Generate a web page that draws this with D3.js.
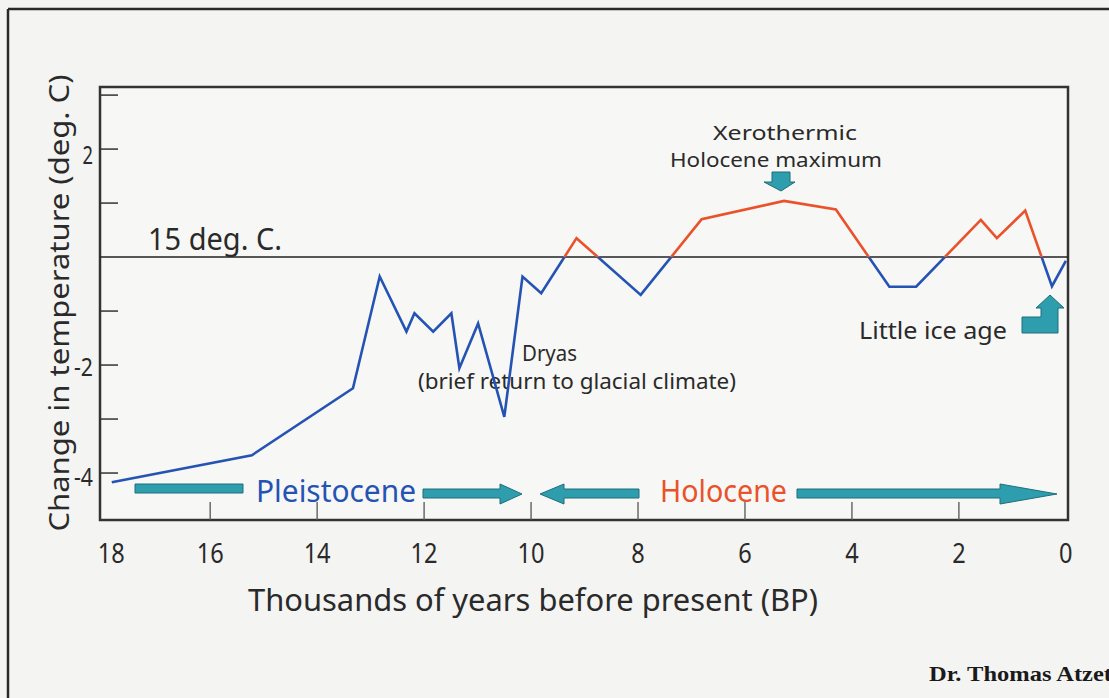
<!DOCTYPE html>
<html>
<head>
<meta charset="utf-8">
<script src="https://cdn.jsdelivr.net/npm/d3@7/dist/d3.min.js"></script>
<style>
  html, body { margin: 0; padding: 0; background: #f4f4f2; }
  svg { display: block; }
</style>
</head>
<body>
<svg id="chart" width="1109" height="698"></svg>
<script>
// ---- Data ----
const yearsBP = [17.84, 15.22, 13.33, 12.83, 12.33, 12.18, 11.83, 11.49, 11.34, 10.99, 10.50, 10.16, 9.81, 9.15, 7.95, 6.81, 5.27, 4.30, 3.30, 2.80, 1.59, 1.29, 0.76, 0.26, 0.00];
const tempChange = [-4.17, -3.67, -2.43, -0.36, -1.38, -1.04, -1.38, -1.04, -2.06, -1.23, -2.96, -0.36, -0.67, 0.35, -0.70, 0.70, 1.04, 0.88, -0.55, -0.55, 0.69, 0.35, 0.86, -0.54, -0.07];
const xTickValues = [18, 16, 14, 12, 10, 8, 6, 4, 2, 0];
const xTickLabels = ["18", "16", "14", "12", "10", "8", "6", "4", "2", "0"];
const yTickValues = [3, 2, 1, -1, -2, -3, -4];
const yLabelValues = [2, -2, -4];
const yLabelTexts = ["2", "-2", "-4"];

const BLUE = "#2553b3", RED = "#e9522b", TEAL = "#2e9dad", TEAL_EDGE = "#1f6f7b", INK = "#2a2a2a";
const FONT = "'Noto Sans', 'Open Sans', sans-serif";

const svg = d3.select("#chart");
const L = 100, R = 1068, T = 87, B = 520;

const x = d3.scaleLinear().domain([18.06, -0.04]).range([L, R]);
const y = d3.scaleLinear().domain([-4.87, 3.15]).range([B, T]);

// outer frame (top and left edges of the scanned page box)
svg.append("line").attr("x1", 8).attr("x2", 1109).attr("y1", 9).attr("y2", 9)
  .attr("stroke", INK).attr("stroke-width", 2.5);
svg.append("line").attr("x1", 8).attr("x2", 8).attr("y1", 9).attr("y2", 698)
  .attr("stroke", INK).attr("stroke-width", 2.5);

// plot area
svg.append("rect").attr("x", L).attr("y", T).attr("width", R - L).attr("height", B - T)
  .attr("fill", "#f7f7f5").attr("stroke", "#333").attr("stroke-width", 2.5);

// inner ticks
svg.append("g").selectAll("line").data(yTickValues).join("line")
  .attr("x1", L).attr("x2", L + 18).attr("y1", d => y(d)).attr("y2", d => y(d))
  .attr("stroke", "#333").attr("stroke-width", 1.5);
svg.append("g").selectAll("line").data(xTickValues.filter(v => v !== 18 && v !== 0)).join("line")
  .attr("x1", d => x(d)).attr("x2", d => x(d)).attr("y1", B).attr("y2", B - 18)
  .attr("stroke", "#555").attr("stroke-width", 1.3);

// zero (15 deg. C.) line
svg.append("line").attr("x1", L).attr("x2", R).attr("y1", y(0)).attr("y2", y(0))
  .attr("stroke", "#222").attr("stroke-width", 1.6);

// tick labels
svg.append("g").selectAll("text").data(xTickValues).join("text")
  .attr("x", (d) => x(d) + (d === 18 ? 8 : 0)).attr("y", 563)
  .attr("text-anchor", "middle")
  .attr("font-family", FONT).attr("font-size", 28).attr("fill", INK)
  .attr("textLength", (d, i) => xTickLabels[i].length * 13.5).attr("lengthAdjust", "spacingAndGlyphs")
  .text((d, i) => xTickLabels[i]);
svg.append("g").selectAll("text").data(yLabelValues).join("text")
  .attr("x", 93).attr("y", d => y(d) + 9 + (d === 2 ? 6 : d === -4 ? 4 : 2))
  .attr("text-anchor", "end")
  .attr("font-family", FONT).attr("font-size", 25).attr("fill", INK)
  .attr("textLength", (d, i) => yLabelTexts[i].length * 8.5 + 2).attr("lengthAdjust", "spacingAndGlyphs")
  .text((d, i) => yLabelTexts[i]);

// axis titles
svg.append("text").attr("x", 248).attr("y", 611)
  .attr("font-family", FONT).attr("font-size", 31).attr("fill", INK)
  .attr("textLength", 570).attr("lengthAdjust", "spacingAndGlyphs")
  .text("Thousands of years before present (BP)");
svg.append("text").attr("transform", "translate(69,303) rotate(-90)")
  .attr("text-anchor", "middle")
  .attr("font-family", FONT).attr("font-size", 27).attr("fill", INK)
  .attr("textLength", 457).attr("lengthAdjust", "spacingAndGlyphs")
  .text("Change in temperature (deg. C)");

// annotations text
function label(txt, px, py, size, len, color, anchor) {
  svg.append("text").attr("x", px).attr("y", py)
    .attr("text-anchor", anchor || "start")
    .attr("font-family", FONT).attr("font-size", size).attr("fill", color || INK)
    .attr("textLength", len).attr("lengthAdjust", "spacingAndGlyphs")
    .text(txt);
}
label("15 deg. C.", 148, 250, 31, 134);
label("Xerothermic", 785, 140, 20, 144, INK, "middle");
label("Holocene maximum", 670, 167, 20, 212);
label("Dryas", 522, 361, 21, 55);
label("(brief return to glacial climate)", 418, 389, 21, 318);
label("Little ice age", 859, 339, 23, 148);
label("Pleistocene", 256, 502, 31, 160, BLUE);
label("Holocene", 660, 502, 31, 127, RED);

// credit
svg.append("text").attr("x", 929).attr("y", 681)
  .attr("font-family", "'Liberation Serif', 'Times New Roman', serif").attr("font-weight", "bold")
  .attr("font-size", 21).attr("fill", "#1a1a1a")
  .attr("textLength", 183).attr("lengthAdjust", "spacingAndGlyphs")
  .text("Dr. Thomas Atzet");

// teal block arrows
function teal(points) {
  svg.append("polygon").attr("points", points.map(p => p.join(",")).join(" "))
    .attr("fill", TEAL).attr("stroke", TEAL_EDGE).attr("stroke-width", 1);
}
function blockArrow(x0, x1, tip) {
  teal([[x0, 489], [x1, 489], [x1, 484], [tip, 494], [x1, 504], [x1, 498], [x0, 498]]);
}
teal([[135, 484], [243, 484], [243, 493], [135, 493]]);
blockArrow(423, 500, 522);
blockArrow(639, 564, 540);
blockArrow(797, 1000, 1057);
// Xerothermic maximum down arrow
teal([[772, 172], [790, 172], [790, 182], [795, 182], [781, 191], [764, 182], [772, 182]]);
// Little ice age bent arrow
teal([[1022, 317], [1041, 317], [1041, 308], [1036, 308], [1050, 295], [1064, 308], [1058, 308], [1058, 333], [1022, 333]]);

// temperature line, split at the zero line into red (warm) and blue (cool)
const pts = yearsBP.map((v, i) => [v, tempChange[i]]);
const lineGen = d3.line().x(d => x(d[0])).y(d => y(d[1]));
const defs = svg.append("defs");
defs.append("clipPath").attr("id", "above").append("rect")
  .attr("x", L).attr("y", T).attr("width", R - L).attr("height", y(0) - T);
defs.append("clipPath").attr("id", "below").append("rect")
  .attr("x", L).attr("y", y(0)).attr("width", R - L).attr("height", B - y(0));
svg.append("path").datum(pts).attr("d", lineGen).attr("fill", "none")
  .attr("stroke", BLUE).attr("stroke-width", 2.6).attr("stroke-linejoin", "miter")
  .attr("clip-path", "url(#below)");
svg.append("path").datum(pts).attr("d", lineGen).attr("fill", "none")
  .attr("stroke", RED).attr("stroke-width", 2.6).attr("stroke-linejoin", "miter")
  .attr("clip-path", "url(#above)");
</script>
</body>
</html>
